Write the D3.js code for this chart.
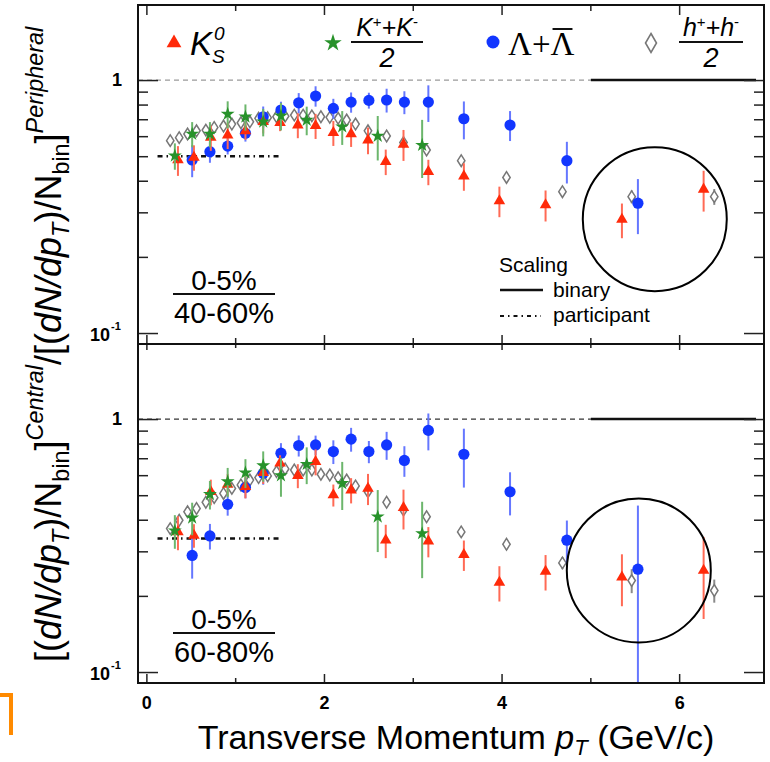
<!DOCTYPE html>
<html>
<head>
<meta charset="utf-8">
<script src="https://cdn.jsdelivr.net/npm/d3@7"></script>
<style>
  body { margin: 0; background: #fff; }
  svg { display: block; }
</style>
</head>
<body>
<script>
// ---- Nuclear modification ratios R_CP vs pT (two centrality ratios) ----

// K0s
const ptK0s = [0.35, 0.53, 0.72, 0.91, 1.11, 1.31, 1.50, 1.70, 1.90, 2.10, 2.30, 2.49, 2.69, 2.89, 3.17, 3.57, 3.97, 4.49, 5.35, 6.27];
const k0sRcp4060 = [0.483, 0.495, 0.593, 0.606, 0.630, 0.684, 0.678, 0.664, 0.660, 0.619, 0.612, 0.579, 0.476, 0.557, 0.434, 0.417, 0.333, 0.321, 0.281, 0.370];
const k0sErr4060 = [0.065, 0.057, 0.068, 0.072, 0.049, 0.069, 0.050, 0.075, 0.075, 0.070, 0.068, 0.070, 0.055, 0.078, 0.050, 0.052, 0.046, 0.045, 0.044, 0.068];
const k0sRcp6080 = [0.358, 0.347, 0.516, 0.552, 0.541, 0.614, 0.669, 0.598, 0.679, 0.501, 0.524, 0.532, 0.332, 0.446, 0.329, 0.291, 0.226, 0.250, 0.237, 0.252];
const k0sErr6080 = [0.055, 0.037, 0.060, 0.055, 0.055, 0.060, 0.050, 0.065, 0.080, 0.050, 0.060, 0.075, 0.050, 0.080, 0.045, 0.040, 0.036, 0.040, 0.055, 0.090];

// Lambda + anti-Lambda
const ptLam = [0.51, 0.71, 0.91, 1.11, 1.31, 1.51, 1.71, 1.90, 2.10, 2.30, 2.50, 2.70, 2.90, 3.17, 3.57, 4.09, 4.73, 5.53];
const lamRcp4060 = [0.483, 0.521, 0.548, 0.616, 0.716, 0.761, 0.813, 0.865, 0.773, 0.818, 0.831, 0.834, 0.818, 0.818, 0.703, 0.664, 0.480, 0.326];
const lamErr4060 = [0.070, 0.050, 0.040, 0.045, 0.070, 0.060, 0.075, 0.080, 0.070, 0.075, 0.060, 0.090, 0.085, 0.135, 0.120, 0.090, 0.090, 0.080];
const lamRcp6080 = [0.289, 0.345, 0.460, 0.536, 0.610, 0.733, 0.786, 0.790, 0.744, 0.833, 0.744, 0.790, 0.686, 0.902, 0.726, 0.516, 0.332, 0.255];
const lamErr6080 = [0.055, 0.040, 0.045, 0.050, 0.060, 0.070, 0.075, 0.070, 0.080, 0.090, 0.075, 0.100, 0.095, 0.150, 0.190, 0.100, 0.065, 0.200];

// (K+ + K-)/2
const ptKch = [0.315, 0.51, 0.71, 0.91, 1.11, 1.31, 1.51, 1.80, 2.20, 2.60, 3.10];
const kchRcp4060 = [0.502, 0.612, 0.612, 0.734, 0.716, 0.684, 0.722, 0.695, 0.654, 0.601, 0.553];
const kchErr4060 = [0.060, 0.070, 0.070, 0.090, 0.085, 0.085, 0.090, 0.090, 0.100, 0.120, 0.143];
const kchRcp6080 = [0.362, 0.407, 0.504, 0.566, 0.614, 0.655, 0.598, 0.663, 0.557, 0.411, 0.353];
const kchErr6080 = [0.055, 0.060, 0.065, 0.075, 0.080, 0.090, 0.105, 0.110, 0.120, 0.113, 0.118];

// (h+ + h-)/2
const ptHad = [0.263, 0.364, 0.458, 0.559, 0.664, 0.758, 0.863, 0.957, 1.059, 1.16, 1.258, 1.36, 1.46, 1.557, 1.66, 1.76, 1.858, 1.96, 2.06, 2.154, 2.25, 2.35, 2.49, 2.70, 2.89, 3.15, 3.54, 4.05, 4.68, 5.46, 6.39];
const hadRcp4060 = [0.576, 0.592, 0.612, 0.630, 0.634, 0.650, 0.658, 0.670, 0.678, 0.684, 0.706, 0.710, 0.716, 0.720, 0.727, 0.727, 0.722, 0.716, 0.712, 0.706, 0.695, 0.670, 0.630, 0.601, 0.567, 0.529, 0.480, 0.412, 0.362, 0.346, 0.346];
const hadErr4060 = [0.008, 0.008, 0.008, 0.008, 0.008, 0.008, 0.008, 0.008, 0.008, 0.008, 0.008, 0.008, 0.008, 0.008, 0.008, 0.008, 0.008, 0.008, 0.008, 0.008, 0.008, 0.008, 0.010, 0.010, 0.012, 0.012, 0.015, 0.015, 0.015, 0.020, 0.025];
const hadRcp6080 = [0.369, 0.398, 0.430, 0.443, 0.469, 0.489, 0.508, 0.532, 0.549, 0.574, 0.587, 0.596, 0.620, 0.635, 0.629, 0.629, 0.629, 0.605, 0.601, 0.587, 0.574, 0.544, 0.516, 0.469, 0.437, 0.411, 0.358, 0.320, 0.270, 0.230, 0.210];
const hadErr6080 = [0.008, 0.008, 0.008, 0.008, 0.008, 0.008, 0.008, 0.008, 0.008, 0.008, 0.008, 0.008, 0.008, 0.008, 0.008, 0.008, 0.008, 0.008, 0.008, 0.008, 0.008, 0.008, 0.010, 0.010, 0.012, 0.012, 0.015, 0.015, 0.015, 0.025, 0.022];

// Scaling expectations
const binaryLevel = 1;
const binaryRange = [5.0, 6.86];
const participantLevels = [0.5, 0.337];
const participantRange = [0.12, 1.5];

// Highlighted high-pT region in each panel (pT, ratio)
const circleCenters = [[5.72, 0.282], [5.54, 0.252]];

// Axis ticks and labels
const xTickValues = [0, 1, 2, 3, 4, 5, 6];
const xTickLabels = ["0", "2", "4", "6"];
const yMajorTicks = [0.1, 1];
const yMinorTicks = [0.2, 0.3, 0.4, 0.5, 0.6, 0.7, 0.8, 0.9];
const centralityLabels = [["0-5%", "40-60%"], ["0-5%", "60-80%"]];

// ---- Layout ----
const W = 770, H = 762;
const FONT = "'Liberation Sans', Arial, Helvetica, sans-serif";
const SERIF = "'Liberation Serif', 'Times New Roman', serif";
const colRed = "#ff2a0a", colBlue = "#1236ff", colGreen = "#27922a", colGray = "#777";

const svg = d3.select("body").append("svg").attr("width", W).attr("height", H);
svg.append("rect").attr("width", W).attr("height", H).attr("fill", "#fff");

const x = d3.scaleLinear().domain([-0.1, 6.95]).range([138, 764]);

const panels = [
  { y0: 5, y1: 344, k0s: k0sRcp4060, k0sE: k0sErr4060, lam: lamRcp4060, lamE: lamErr4060,
    kch: kchRcp4060, kchE: kchErr4060, had: hadRcp4060, hadE: hadErr4060,
    part: participantLevels[0], circle: circleCenters[0], labels: centralityLabels[0], dash: "#9a9a9a" },
  { y0: 344, y1: 683, k0s: k0sRcp6080, k0sE: k0sErr6080, lam: lamRcp6080, lamE: lamErr6080,
    kch: kchRcp6080, kchE: kchErr6080, had: hadRcp6080, hadE: hadErr6080,
    part: participantLevels[1], circle: circleCenters[1], labels: centralityLabels[1], dash: "#333" }
];

const triangle = d3.symbol().type(d3.symbolTriangle).size(58)();
const star = d3.symbol().type(d3.symbolStar).size(60)();
const diamond = "M0,-5.8L3.7,0L0,5.8L-3.7,0Z";

panels.forEach((p, i) => {
  const y = d3.scaleLog().domain([0.0905, 1.98]).range([p.y1, p.y0]);
  const g = svg.append("g");
  const clipId = "clip" + i;
  svg.append("clipPath").attr("id", clipId).append("rect")
    .attr("x", x.range()[0]).attr("y", p.y0).attr("width", x.range()[1] - x.range()[0]).attr("height", p.y1 - p.y0);

  // reference lines
  g.append("line").attr("x1", x(-0.1)).attr("x2", x(binaryRange[0]))
    .attr("y1", y(binaryLevel)).attr("y2", y(binaryLevel))
    .attr("stroke", p.dash).attr("stroke-width", 1.2).attr("stroke-dasharray", "5,4");
  g.append("line").attr("x1", x(binaryRange[0])).attr("x2", x(binaryRange[1]))
    .attr("y1", y(binaryLevel)).attr("y2", y(binaryLevel))
    .attr("stroke", "#111").attr("stroke-width", 2.5);
  g.append("line").attr("x1", x(participantRange[0])).attr("x2", x(participantRange[1]))
    .attr("y1", y(p.part)).attr("y2", y(p.part))
    .attr("stroke", "#111").attr("stroke-width", 2.5).attr("stroke-dasharray", "5,4,1.5,4");

  // data series: error bars then markers
  const series = [
    { pt: ptHad, v: p.had, e: p.hadE, col: colGray, ecol: "#8a8a8a", shape: "diamond" },
    { pt: ptLam, v: p.lam, e: p.lamE, col: colBlue, ecol: "#6577ff", shape: "circle" },
    { pt: ptK0s, v: p.k0s, e: p.k0sE, col: colRed, ecol: "#ff6a55", shape: "triangle" },
    { pt: ptKch, v: p.kch, e: p.kchE, col: colGreen, ecol: "#6cb66c", shape: "star" }
  ];
  series.forEach(s => {
    const pts = s.pt.map((pt, j) => ({ pt, v: s.v[j], e: s.e[j] }));
    const sg = g.append("g");
    sg.append("g").attr("clip-path", `url(#${clipId})`).selectAll("line").data(pts).join("line")
      .attr("x1", d => x(d.pt)).attr("x2", d => x(d.pt))
      .attr("y1", d => y(Math.max(d.v - d.e, 0.02))).attr("y2", d => y(d.v + d.e))
      .attr("stroke", s.ecol).attr("stroke-width", 2);
    const m = sg.append("g").selectAll("g").data(pts).join("g")
      .attr("transform", d => `translate(${x(d.pt)},${y(d.v)})`);
    if (s.shape === "circle") {
      m.append("circle").attr("r", 5.6).attr("fill", s.col);
    } else if (s.shape === "diamond") {
      m.append("path").attr("d", diamond).attr("fill", "#fff").attr("stroke", s.col).attr("stroke-width", 1.5);
    } else {
      m.append("path").attr("d", s.shape === "triangle" ? triangle : star).attr("fill", s.col);
    }
  });

  // highlight circle
  g.append("circle").attr("cx", x(p.circle[0])).attr("cy", y(p.circle[1])).attr("r", 72)
    .attr("fill", "none").attr("stroke", "#000").attr("stroke-width", 2);

  // y axes (left and right), major + minor ticks, inward
  const axL = (vals, len) => d3.axisRight(y).tickValues(vals).tickSize(len).tickFormat("");
  const axR = (vals, len) => d3.axisLeft(y).tickValues(vals).tickSize(len).tickFormat("");
  [[axL(yMajorTicks, 20), x.range()[0]], [axL(yMinorTicks, 10), x.range()[0]],
   [axR(yMajorTicks, 20), x.range()[1]], [axR(yMinorTicks, 10), x.range()[1]]].forEach(([ax, px]) => {
    const a = svg.append("g").attr("transform", `translate(${px},0)`).call(ax);
    a.select(".domain").remove();
    a.selectAll("line").attr("stroke", "#222").attr("stroke-width", 1.5);
  });

  // y tick labels
  svg.append("text").attr("x", 122).attr("y", y(1) + 6).attr("text-anchor", "end")
    .style("font-family", FONT).style("font-weight", "bold").style("font-size", "18px").text("1");
  svg.append("text").attr("x", 110).attr("y", y(0.1) + 8).attr("text-anchor", "end")
    .style("font-family", FONT).style("font-weight", "bold").style("font-size", "18px").text("10");
  svg.append("text").attr("x", 111).attr("y", y(0.1) - 3)
    .style("font-family", FONT).style("font-weight", "bold").style("font-size", "11px").text("-1");

  // centrality ratio label
  const cxL = 224, ly = p.y0 + 289;
  svg.append("text").attr("x", cxL).attr("y", ly - 4).attr("text-anchor", "middle")
    .style("font-family", FONT).style("font-size", "28px").text(p.labels[0]);
  svg.append("line").attr("x1", 173).attr("x2", 275).attr("y1", ly).attr("y2", ly)
    .attr("stroke", "#111").attr("stroke-width", 2);
  svg.append("text").attr("x", cxL).attr("y", ly + 29).attr("text-anchor", "middle")
    .style("font-family", FONT).style("font-size", "29px").text(p.labels[1]);
});

// x ticks: top edge, shared middle edge, bottom edge
function xTicks(yPos, dir, major, minor) {
  const g = svg.append("g");
  g.selectAll("line").data(xTickValues).join("line")
    .attr("x1", d => x(d)).attr("x2", d => x(d))
    .attr("y1", yPos).attr("y2", d => yPos + dir * (d % 2 === 0 ? major : minor))
    .attr("stroke", "#222").attr("stroke-width", 1.5);
}
xTicks(5, 1, 10, 6);
xTicks(344, -1, 9, 6);
xTicks(344, 1, 6, 4);
xTicks(683, -1, 9, 5);

// frame
const fr = svg.append("g").attr("fill", "none").attr("stroke", "#111");
fr.append("rect").attr("x", 138).attr("y", 5).attr("width", 626).attr("height", 678).attr("stroke-width", 2);
fr.append("line").attr("x1", 138).attr("x2", 764).attr("y1", 344).attr("y2", 344).attr("stroke-width", 2);

// x tick labels
svg.append("g").selectAll("text").data(xTickLabels).join("text")
  .attr("x", d => x(+d)).attr("y", 709).attr("text-anchor", "middle")
  .style("font-family", FONT).style("font-weight", "bold").style("font-size", "18px").text(d => d);

// rich-text helper: parts = {t, it, shift, scale}
function rich(sel, parts, fs) {
  let cur = 0;
  parts.forEach(pt => {
    const sh = (pt.shift || 0);
    sel.append("tspan")
      .attr("dy", sh - cur)
      .style("font-style", pt.it ? "italic" : "normal")
      .style("font-size", (fs * (pt.scale || 1)) + "px")
      .text(pt.t);
    cur = sh;
  });
  return sel;
}

// x axis title
rich(svg.append("text").attr("x", 456).attr("y", 749).attr("text-anchor", "middle")
  .style("font-family", FONT).style("font-size", "34px"),
  [{ t: "Transverse Momentum " }, { t: "p", it: true }, { t: "T", it: true, shift: 6, scale: 0.65 },
   { t: " (GeV/c)" }], 34);

// y axis title (rotated, spans both panels)
rich(svg.append("text").attr("transform", "translate(61,662) rotate(-90)")
  .style("font-family", FONT).style("font-size", "36px"),
  [{ t: "[(" }, { t: "dN/dp", it: true }, { t: "T", it: true, shift: 8, scale: 0.65 },
   { t: ")/N" }, { t: "bin", shift: 8, scale: 0.65 }, { t: "]" },
   { t: "Central", it: true, shift: -18, scale: 0.65 },
   { t: "/[(" }, { t: "dN/dp", it: true }, { t: "T", it: true, shift: 8, scale: 0.65 },
   { t: ")/N" }, { t: "bin", shift: 8, scale: 0.65 }, { t: "]" },
   { t: "Peripheral", it: true, shift: -18, scale: 0.65 }], 36);

// ---- species legend ----
const leg = svg.append("g");
leg.append("path").attr("d", d3.symbol().type(d3.symbolTriangle).size(95)())
  .attr("transform", "translate(174,43)").attr("fill", colRed);
leg.append("text").attr("x", 190).attr("y", 55).style("font-family", FONT).style("font-style", "italic")
  .style("font-size", "33px").text("K");
leg.append("text").attr("x", 214).attr("y", 40).style("font-family", FONT).style("font-style", "italic")
  .style("font-size", "19px").text("0");
leg.append("text").attr("x", 212).attr("y", 63).style("font-family", FONT).style("font-style", "italic")
  .style("font-size", "19px").text("S");

leg.append("path").attr("d", d3.symbol().type(d3.symbolStar).size(95)())
  .attr("transform", "translate(333,43)").attr("fill", colGreen);
function fraction(cx, x1, x2, num) {
  rich(leg.append("text").attr("x", cx).attr("y", 36).attr("text-anchor", "middle")
    .style("font-family", FONT).style("font-size", "25px"), num, 25);
  leg.append("line").attr("x1", x1).attr("x2", x2).attr("y1", 42).attr("y2", 42)
    .attr("stroke", "#111").attr("stroke-width", 2);
  leg.append("text").attr("x", cx).attr("y", 67).attr("text-anchor", "middle")
    .style("font-family", FONT).style("font-style", "italic").style("font-size", "27px").text("2");
}
fraction(387, 351, 423, [{ t: "K", it: true }, { t: "+", shift: -9, scale: 0.6 }, { t: "+", it: true },
  { t: "K", it: true }, { t: "-", shift: -9, scale: 0.6 }]);

leg.append("circle").attr("cx", 493).attr("cy", 42).attr("r", 6.5).attr("fill", colBlue);
const lam = leg.append("text").attr("x", 508).attr("y", 55).style("font-family", SERIF)
  .style("font-size", "33px").text("\u039B+\u039B");
const ext = lam.node().getExtentOfChar(2);
leg.append("line").attr("x1", ext.x + 2).attr("x2", ext.x + ext.width - 2)
  .attr("y1", 29).attr("y2", 29).attr("stroke", "#111").attr("stroke-width", 2);

leg.append("path").attr("d", "M0,-9.5L5.5,0L0,9.5L-5.5,0Z").attr("transform", "translate(651,43)")
  .attr("fill", "#fff").attr("stroke", colGray).attr("stroke-width", 1.6);
fraction(711, 679, 743, [{ t: "h", it: true }, { t: "+", shift: -9, scale: 0.6 }, { t: "+", it: true },
  { t: "h", it: true }, { t: "-", shift: -9, scale: 0.6 }]);

// ---- scaling legend ----
const sc = svg.append("g").style("font-family", FONT).style("font-size", "21px");
sc.append("text").attr("x", 499).attr("y", 272).text("Scaling");
sc.append("line").attr("x1", 500).attr("x2", 543).attr("y1", 290).attr("y2", 290)
  .attr("stroke", "#111").attr("stroke-width", 2.5);
sc.append("text").attr("x", 553).attr("y", 297).text("binary");
sc.append("line").attr("x1", 500).attr("x2", 541).attr("y1", 316).attr("y2", 316)
  .attr("stroke", "#111").attr("stroke-width", 2).attr("stroke-dasharray", "4,4,1.5,4");
sc.append("text").attr("x", 553).attr("y", 322).text("participant");

// orange corner bracket
svg.append("path").attr("d", "M0,693H13V735H9V697H0Z").attr("fill", "#ff8a00");
</script>
</body>
</html>
